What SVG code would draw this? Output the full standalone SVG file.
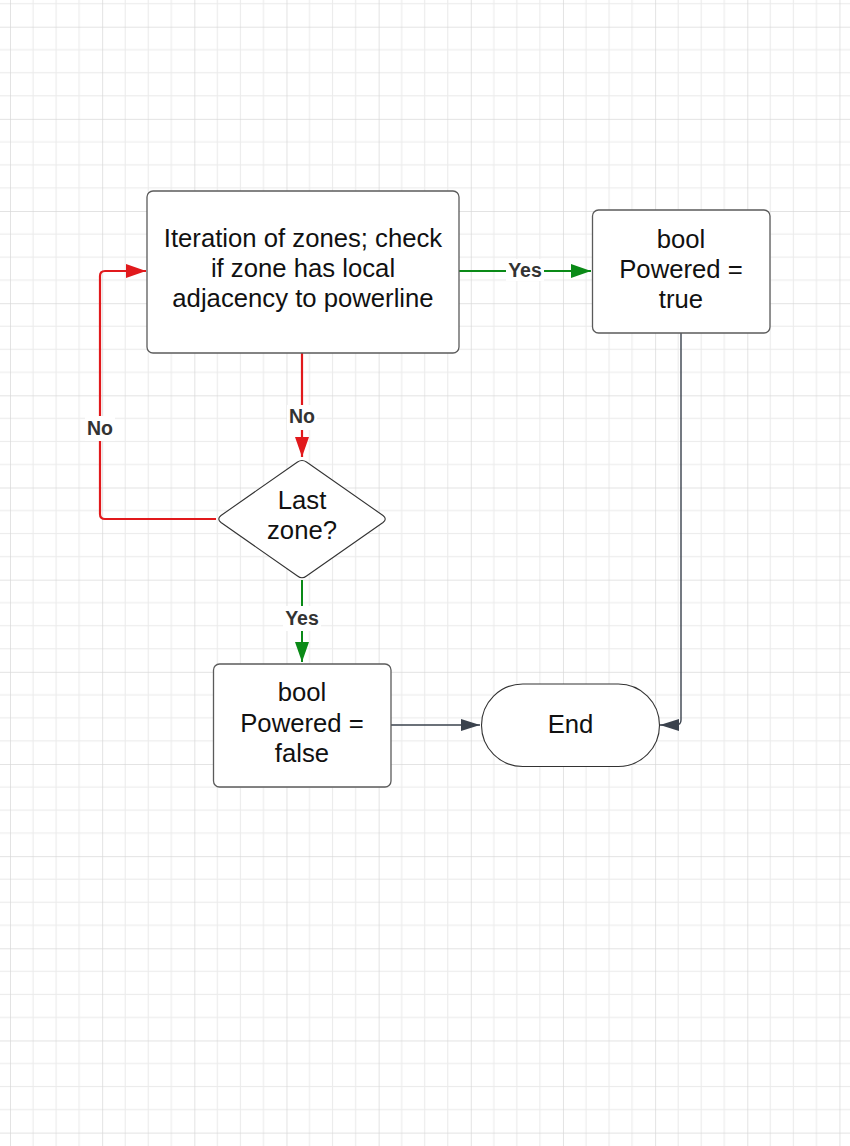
<svg xmlns="http://www.w3.org/2000/svg" width="850" height="1146" viewBox="0 0 850 1146">
  <style>
    .node { fill: #ffffff; stroke: #5b5b5b; stroke-width: 1.3; }
    .ntext { font-family: "Liberation Sans", Arial, sans-serif; font-size: 25.7px; fill: #111111; text-anchor: middle; }
    .lbl { font-family: "Liberation Sans", Arial, sans-serif; font-size: 19.5px; font-weight: bold; fill: #333333; text-anchor: middle; }
    .lblbg { fill: #ffffff; }
    .red { fill: none; stroke: #e1191c; stroke-width: 2.2; marker-end: url(#ahRed); }
    .green { fill: none; stroke: #0a8a17; stroke-width: 2; marker-end: url(#ahGreen); }
    .dark { fill: none; stroke: #3a424d; stroke-width: 1.4; marker-end: url(#ahDark); }
  </style>
  <defs>
    <pattern id="grid" patternUnits="userSpaceOnUse" x="10" y="26.7" width="92.16" height="92.16">
      <rect x="0" y="0" width="92.16" height="92.16" fill="#ffffff"/>
      <g fill="#ebebeb">
        <rect x="22.54" y="0" width="1" height="92.16"/>
        <rect x="45.58" y="0" width="1" height="92.16"/>
        <rect x="68.62" y="0" width="1" height="92.16"/>
        <rect x="0" y="22.54" width="92.16" height="1"/>
        <rect x="0" y="45.58" width="92.16" height="1"/>
        <rect x="0" y="68.62" width="92.16" height="1"/>
      </g>
      <g fill="#d8d8d8">
        <rect x="-0.5" y="0" width="1.2" height="92.16"/>
        <rect x="0" y="-0.5" width="92.16" height="1.2"/>
      </g>
    </pattern>
    <marker id="ahRed" markerUnits="userSpaceOnUse" viewBox="0 0 20 14" markerWidth="20" markerHeight="14" refX="20" refY="7" orient="auto">
      <path d="M0 0 L20 7 L0 14 z" fill="#e1191c"/>
    </marker>
    <marker id="ahGreen" markerUnits="userSpaceOnUse" viewBox="0 0 20 14" markerWidth="20" markerHeight="14" refX="20" refY="7" orient="auto">
      <path d="M0 0 L20 7 L0 14 z" fill="#0a8a17"/>
    </marker>
    <marker id="ahDark" markerUnits="userSpaceOnUse" viewBox="0 0 19 12" markerWidth="19" markerHeight="12" refX="19" refY="6" orient="auto">
      <path d="M0 0 L19 6 L0 12 z" fill="#3a424d"/>
    </marker>
  </defs>

  <rect x="0" y="0" width="850" height="1146" fill="url(#grid)"/>

  <g id="connectors">
    <g id="c-yes-true">
      <path class="green" d="M459 271 H591"/>
      <rect class="lblbg" x="506" y="259" width="38" height="22"/>
      <text class="lbl" x="525" y="277">Yes</text>
    </g>
    <g id="c-no-down">
      <path class="red" d="M302 353 V457"/>
      <rect class="lblbg" x="287" y="405" width="30" height="25"/>
      <text class="lbl" x="302" y="422.5">No</text>
    </g>
    <g id="c-no-loop">
      <path class="red" d="M216 519 H105 Q100 519 100 514 V276 Q100 271 105 271 H146"/>
      <rect class="lblbg" x="85" y="416" width="30" height="25"/>
      <text class="lbl" x="100" y="435">No</text>
    </g>
    <g id="c-yes-false">
      <path class="green" d="M302 580 V662"/>
      <rect class="lblbg" x="283" y="606" width="38" height="25"/>
      <text class="lbl" x="302" y="625">Yes</text>
    </g>
    <g id="c-false-end">
      <path class="dark" d="M391 725 H480"/>
    </g>
    <g id="c-true-end">
      <path class="dark" d="M681 333 V720 Q681 725 676 725 H660"/>
    </g>
  </g>

  <g id="iterate">
    <rect class="node" x="147" y="191" width="312" height="162" rx="6" ry="6"/>
    <text class="ntext" x="303" y="247">Iteration of zones; check</text>
    <text class="ntext" x="303" y="277">if zone has local</text>
    <text class="ntext" x="303" y="307">adjacency to powerline</text>
  </g>

  <g id="powered-true">
    <rect class="node" x="592.5" y="210" width="177.5" height="123" rx="6" ry="6"/>
    <text class="ntext" x="681" y="248">bool</text>
    <text class="ntext" x="681" y="277.5">Powered =</text>
    <text class="ntext" x="681" y="307.5">true</text>
  </g>

  <g id="last-zone">
    <path d="M297.5 462 Q302 459 306.5 462 L383 515.5 Q387.5 519 383 522.5 L306.5 576 Q302 579.5 297.5 576 L221 522.5 Q216.5 519 221 515.5 Z" fill="#ffffff" stroke="#333333" stroke-width="1.1"/>
    <text class="ntext" x="302" y="508.5">Last</text>
    <text class="ntext" x="302" y="538.5">zone?</text>
  </g>

  <g id="powered-false">
    <rect class="node" x="213.5" y="664" width="177.5" height="123" rx="6" ry="6"/>
    <text class="ntext" x="302" y="701">bool</text>
    <text class="ntext" x="302" y="731.5">Powered =</text>
    <text class="ntext" x="302" y="761.5">false</text>
  </g>

  <g id="end">
    <rect x="481.5" y="684" width="178" height="82.5" rx="41.25" ry="41.25" fill="#ffffff" stroke="#333333" stroke-width="1.1"/>
    <text class="ntext" x="570.5" y="733">End</text>
  </g>
</svg>
